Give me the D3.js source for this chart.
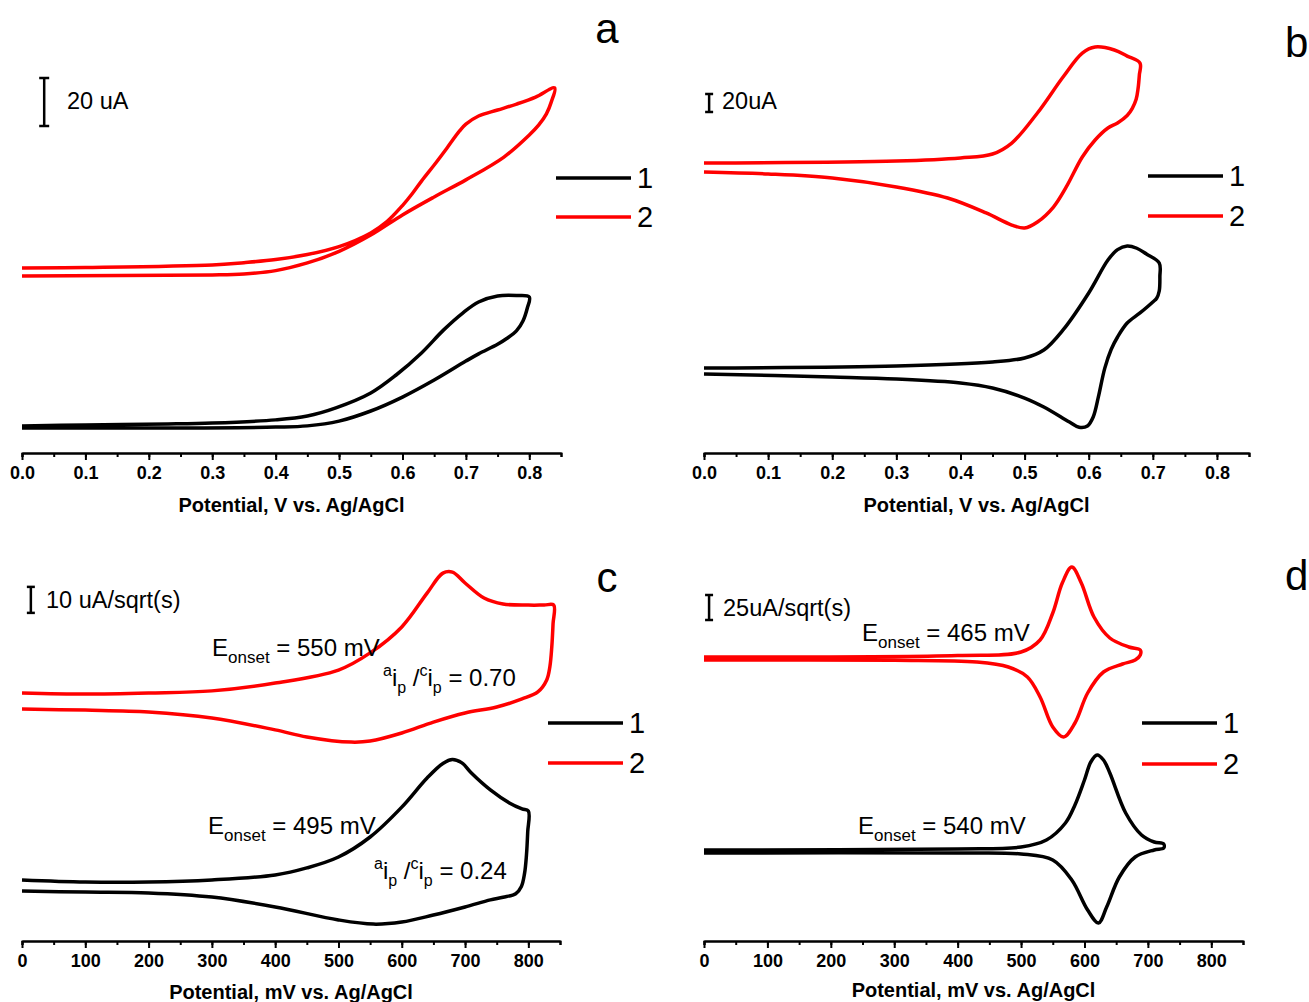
<!DOCTYPE html>
<html>
<head>
<meta charset="utf-8">
<script src="https://cdn.jsdelivr.net/npm/d3@7"></script>
<style>
  body { margin: 0; background: #fff; }
  svg { display: block; font-family: "Liberation Sans", Arial, sans-serif; }
</style>
</head>
<body>
<svg id="fig" width="1309" height="1002"></svg>
<script>
// tick labels
const voltTicks = [0, 0.1, 0.2, 0.3, 0.4, 0.5, 0.6, 0.7, 0.8];
const mvTicks = [0, 100, 200, 300, 400, 500, 600, 700, 800];
const seriesNames = ["1", "2"];
const seriesColors = ["#000000", "#ff0000"];

// panel a: potential (V), current (uA, offset)
const aCurve1 = [[0,11.3],[0.1,11.7],[0.23,12.1],[0.3,12.5],[0.4,13.8],[0.45,15.4],[0.495,18.8],[0.55,25.0],[0.59,32.5],[0.63,41.7],[0.665,51.3],[0.695,58.3],[0.72,62.9],[0.75,65.4],[0.78,65.6],[0.8,65.0],
  [0.797,60.5],[0.79,55],[0.78,51],[0.765,47.8],[0.75,45.3],[0.72,41.3],[0.7,38.3],[0.65,30.4],[0.6,23.3],[0.55,17.5],[0.5,13.3],[0.45,11.3],[0.4,10.8],[0.2,10.4],[0,10.4]];
const aCurve2 = [[0,77.1],[0.1,77.3],[0.3,78.3],[0.35,79.3],[0.4,80.6],[0.45,82.7],[0.5,86.0],[0.55,91.7],[0.575,96.3],[0.6,103.1],[0.615,107.9],[0.63,113.3],[0.65,120],[0.67,127],[0.69,134.2],[0.7,137],[0.72,140.4],[0.75,142.9],[0.78,145.4],[0.81,148.3],[0.84,152.1],
  [0.835,146.5],[0.827,141.3],[0.815,136.7],[0.8,132.5],[0.76,123.3],[0.7,113.8],[0.65,106.7],[0.6,99.2],[0.55,90.8],[0.5,84.0],[0.45,79.2],[0.4,76.0],[0.35,74.6],[0.3,74.2],[0,73.8]];

// panel b: potential (V), current (uA, offset)
const bCurve1 = [[0,94.4],[0.3,96.7],[0.45,101.1],[0.5,105.6],[0.53,114.4],[0.56,136.7],[0.6,177.8],[0.63,214.4],[0.645,226],[0.66,230],[0.675,227.5],[0.69,221.1],[0.71,211.1],
  [0.711,196],[0.71,180],[0.706,172],[0.70,167.8],[0.68,155.6],[0.66,144.4],[0.645,128.9],[0.635,115],[0.625,94],[0.615,62],[0.607,40],[0.598,30],[0.585,28.6],[0.57,34.4],[0.53,51.1],[0.5,61.1],[0.45,72.2],[0.4,77.8],[0.3,82.2],[0.2,84.4],[0,87.8]];
const bCurve2 = [[0,322.2],[0.3,324.4],[0.4,327.8],[0.45,332.2],[0.48,344.4],[0.52,377.8],[0.56,417.8],[0.59,444.4],[0.61,451.1],[0.64,447.8],[0.66,441],[0.68,433.3],
  [0.679,420],[0.677,405],[0.674,393],[0.668,383],[0.66,375],[0.645,366.7],[0.63,361.1],[0.61,347.8],[0.59,328.9],[0.565,295.6],[0.545,273.3],[0.52,256.7],[0.5,250],[0.48,253.3],[0.44,266.7],[0.38,283.3],[0.3,295.6],[0.2,305.6],[0.1,310],[0,312.2]];

// panel c: potential (mV), current (uA/sqrt(s), offset)
const cCurve1 = [[0,23.5],[100,22.7],[200,22.7],[300,23.5],[400,25.4],[450,28.1],[500,32.3],[550,40],[600,51.5],[640,62.7],[665,68.3],[680,69.8],[695,68.5],[710,64.6],[740,58.1],[770,53.1],[790,50.8],[800,50],
  [799,42],[797,33],[794,26],[789,21],[780,18.2],[760,16.8],[740,15.8],[700,13.1],[650,10],[600,7.3],[555,6.5],[500,8.1],[400,13.1],[300,16.9],[200,18.5],[100,18.8],[0,19.2]];
const cCurve2 = [[0,95.4],[100,95.0],[200,95.4],[300,96.2],[400,99.2],[500,104.2],[550,110.8],[600,120.8],[640,133.8],[665,141.5],[680,141.9],[700,137.7],[730,131.9],[760,129.6],[800,129.2],[825,129.2],[840,129.2],
  [839,122],[837,113],[834,105.5],[829,100.4],[815,95.8],[790,93.1],[750,90],[700,87.7],[650,84.2],[600,80],[550,76.9],[520,76.5],[450,78.5],[400,81.2],[300,85.8],[200,88.1],[100,88.8],[0,89.2]];

// panel d: potential (mV), current (uA/sqrt(s), offset)
const dCurve1 = [[0,91],[400,92],[500,94],[540,101],[570,118],[585,136],[600,161],[610,179],[620,186],[630,181],[640,168],[665,128],[690,106],[710,99],[725,97],
  [725,93],[710,91],[680,84],[655,64],[635,34],[622,18],[605,31],[580,61],[550,81],[500,87],[400,88],[0,88]];
const dCurve2 = [[0,284],[400,285.5],[500,289],[530,301],[550,328],[565,358],[580,374],[595,358],[615,324],[640,303],[670,294],[688,291],
  [688,286],[680,281],[660,277],[630,269],[605,248],[585,218],[567,204],[550,214],[530,244],[510,264],[480,274],[430,279],[300,280.8],[0,281]];

const panels = [
  { letter: "a", curves: [aCurve1, aCurve2], xDomain: [0, 0.85], xRange: [22, 561], yDomain: [0, 185], yRange: [453, 9],
    ticks: voltTicks, fmt: d3.format(".1f"), minorStep: 0.05, title: "Potential, V vs. Ag/AgCl", titleY: 512,
    letterPos: [607, 43, "middle"], legendX: 556, legendY: [178, 217],
    bar: { x: 0.035, from: 136.25, size: 20, cap: 5, label: "20 uA", lx: 67, ly: 109 } },
  { letter: "b", curves: [bCurve1, bCurve2], xDomain: [0, 0.85], xRange: [704, 1249], yDomain: [0, 480], yRange: [453, 21],
    ticks: voltTicks, fmt: d3.format(".1f"), minorStep: 0.05, title: "Potential, V vs. Ag/AgCl", titleY: 512,
    letterPos: [1285, 57, "start"], legendX: 1148, legendY: [176, 216],
    bar: { x: 0.008, from: 378.9, size: 20, cap: 4, label: "20uA", lx: 722, ly: 109 } },
  { letter: "c", curves: [cCurve1, cCurve2], xDomain: [0, 850], xRange: [22, 560], yDomain: [0, 150], yRange: [941, 551],
    ticks: mvTicks, fmt: d3.format("d"), minorStep: 50, title: "Potential, mV vs. Ag/AgCl", titleY: 999,
    letterPos: [607, 592, "middle"], legendX: 548, legendY: [723, 763],
    bar: { x: 14, from: 126.2, size: 10, cap: 4, label: "10 uA/sqrt(s)", lx: 46, ly: 608 } },
  { letter: "d", curves: [dCurve1, dCurve2], xDomain: [0, 850], xRange: [704, 1243], yDomain: [0, 380], yRange: [941, 561],
    ticks: mvTicks, fmt: d3.format("d"), minorStep: 50, title: "Potential, mV vs. Ag/AgCl", titleY: 997,
    letterPos: [1285, 590, "start"], legendX: 1142, legendY: [723, 764],
    bar: { x: 8, from: 321, size: 25, cap: 4, label: "25uA/sqrt(s)", lx: 723, ly: 616 } }
];

// peak annotations (panels c and d)
const onsetNotes = [
  { value: "550", x: 212, y: 656 },
  { value: "495", x: 208, y: 834 },
  { value: "465", x: 862, y: 641 },
  { value: "540", x: 858, y: 834 }
];
const ratioNotes = [
  { value: "0.70", x: 383, y: 686 },
  { value: "0.24", x: 374, y: 879 }
];

const svg = d3.select("#fig");

panels.forEach((p) => {
  const x = d3.scaleLinear().domain(p.xDomain).range(p.xRange);
  const y = d3.scaleLinear().domain(p.yDomain).range(p.yRange);
  const g = svg.append("g");
  const axisY = p.yRange[0];

  // minor ticks
  g.append("g")
    .attr("transform", `translate(0,${axisY})`)
    .call(d3.axisBottom(x).tickValues(d3.range(p.xDomain[0], p.xDomain[1] + 1e-9, p.minorStep)).tickSize(4).tickFormat(""))
    .call((s) => s.selectAll("line,path").attr("stroke", "#000").attr("stroke-width", 2));

  // major ticks + labels
  g.append("g")
    .attr("transform", `translate(0,${axisY})`)
    .call(d3.axisBottom(x).tickValues(p.ticks).tickSize(7).tickSizeOuter(0).tickPadding(6).tickFormat(p.fmt))
    .call((s) => s.selectAll("line,path").attr("stroke", "#000").attr("stroke-width", 2))
    .call((s) => s.selectAll("text").attr("font-size", 18).attr("font-weight", "bold").attr("fill", "#000")
      .attr("font-family", "'Liberation Sans', Arial, sans-serif"));

  g.append("text")
    .attr("x", (p.xRange[0] + p.xRange[1]) / 2)
    .attr("y", p.titleY)
    .attr("text-anchor", "middle")
    .attr("font-size", 20)
    .attr("font-weight", "bold")
    .text(p.title);

  // curves
  const line = d3.line()
    .x((d) => x(d[0]))
    .y((d) => y(d[1]))
    .curve(d3.curveCatmullRom.alpha(0.5));

  p.curves.forEach((c, i) => {
    g.append("path")
      .attr("d", line(c))
      .attr("fill", "none")
      .attr("stroke", seriesColors[i])
      .attr("stroke-width", 3.5)
      .attr("stroke-linejoin", "round");
  });

  // legend
  seriesNames.forEach((name, i) => {
    g.append("line")
      .attr("x1", p.legendX).attr("x2", p.legendX + 75)
      .attr("y1", p.legendY[i]).attr("y2", p.legendY[i])
      .attr("stroke", seriesColors[i]).attr("stroke-width", 3.5);
    g.append("text")
      .attr("x", p.legendX + 81)
      .attr("y", p.legendY[i] + 10)
      .attr("font-size", 29)
      .text(name);
  });

  // scale bar
  const b = p.bar;
  const bx = x(b.x), y0 = y(b.from), y1 = y(b.from + b.size);
  const bar = g.append("g").attr("stroke", "#000").attr("stroke-width", 2.5);
  bar.append("line").attr("x1", bx).attr("x2", bx).attr("y1", y0).attr("y2", y1);
  bar.append("line").attr("x1", bx - b.cap).attr("x2", bx + b.cap).attr("y1", y0).attr("y2", y0);
  bar.append("line").attr("x1", bx - b.cap).attr("x2", bx + b.cap).attr("y1", y1).attr("y2", y1);
  g.append("text").attr("x", b.lx).attr("y", b.ly).attr("font-size", 23.5).text(b.label);

  // panel letter
  g.append("text")
    .attr("x", p.letterPos[0]).attr("y", p.letterPos[1])
    .attr("text-anchor", p.letterPos[2])
    .attr("font-size", 42)
    .text(p.letter);
});

onsetNotes.forEach((n) => {
  const t = svg.append("text").attr("x", n.x).attr("y", n.y).attr("font-size", 24);
  t.append("tspan").text("E");
  t.append("tspan").attr("font-size", 17).attr("dy", 7).text("onset");
  t.append("tspan").attr("dy", -7).text(` = ${n.value} mV`);
});

ratioNotes.forEach((n) => {
  const t = svg.append("text").attr("x", n.x).attr("y", n.y).attr("font-size", 24);
  t.append("tspan").attr("font-size", 16).attr("dy", -10).text("a");
  t.append("tspan").attr("dy", 10).text("i");
  t.append("tspan").attr("font-size", 16).attr("dy", 7).text("p");
  t.append("tspan").attr("dy", -7).text(" /");
  t.append("tspan").attr("font-size", 16).attr("dy", -10).text("c");
  t.append("tspan").attr("dy", 10).text("i");
  t.append("tspan").attr("font-size", 16).attr("dy", 7).text("p");
  t.append("tspan").attr("dy", -7).text(` = ${n.value}`);
});
</script>
</body>
</html>
